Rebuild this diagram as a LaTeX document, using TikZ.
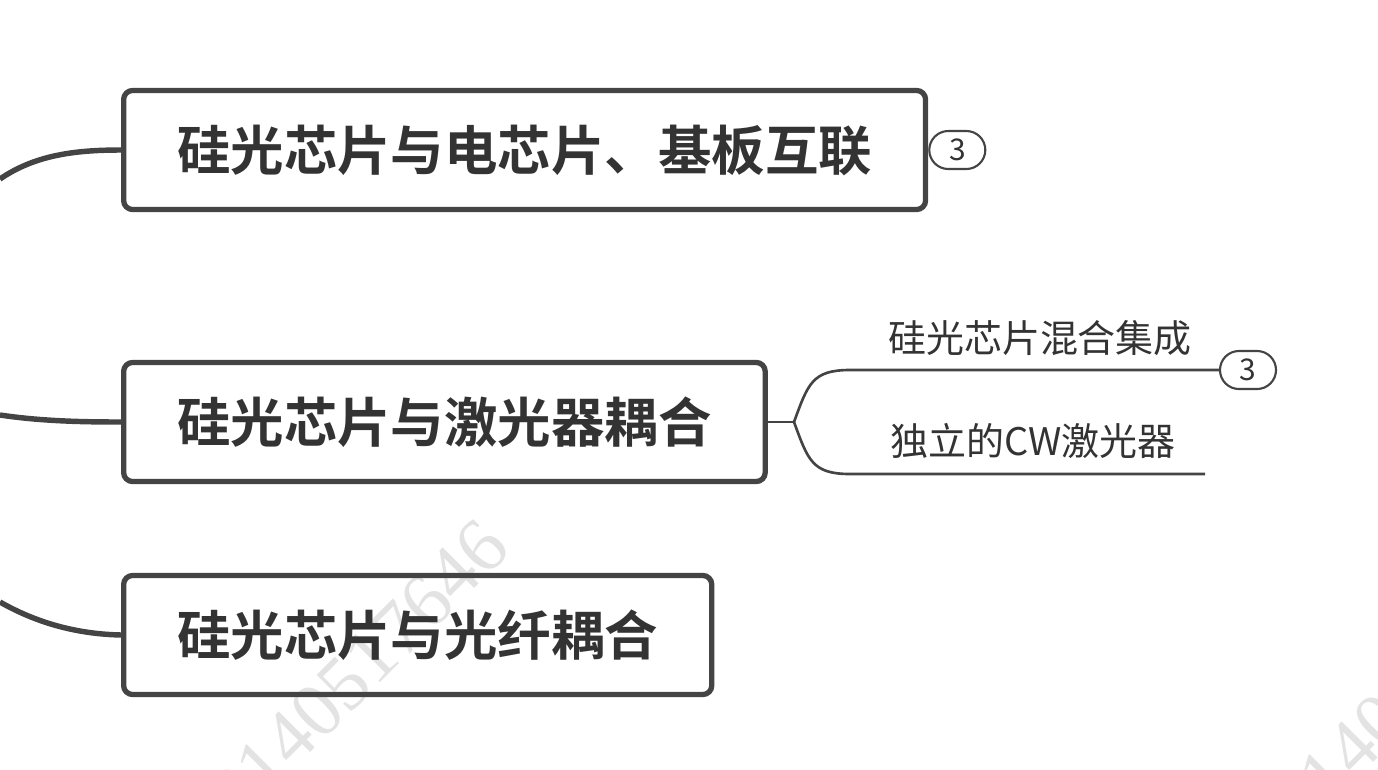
\documentclass[tikz,border=0pt]{standalone}
\usepackage{fontspec}
\setmainfont{Noto Sans CJK SC}[BoldFont={* Bold}]
\newfontfamily\markfont{Liberation Serif}
\usetikzlibrary{positioning}

\definecolor{ink}{HTML}{444444}
\definecolor{txt}{HTML}{333333}

\tikzstyle{topic} = [draw=ink, line width=1.5pt, rounded corners=0.9mm,
    minimum height=1.19cm, inner xsep=0.535cm, anchor=west, text=txt,
    font=\fontsize{15.2}{18}\selectfont\bfseries]
\tikzstyle{badge} = [draw=ink, line width=0.6pt, rounded corners=0.19cm, fill=white,
    minimum width=0.56cm, minimum height=0.38cm, inner sep=0pt, text=txt,
    font=\fontsize{8.5}{10}\selectfont]
\tikzstyle{subtext} = [text=txt, inner sep=0pt, font=\fontsize{10.8}{13}\selectfont]
\tikzstyle{watermark} = [rotate=45, text=black!11, font=\markfont\fontsize{22}{24}\selectfont]
\tikzstyle{trunk} = [draw=ink, line width=1.55pt]
\tikzstyle{twig} = [draw=ink, line width=0.75pt]

\begin{document}
\begin{tikzpicture}[x=0.01cm, y=-0.01cm]
    \useasboundingbox (0,0) rectangle (1378,769);

    % watermark
    \begin{scope}
        \clip (0,0) rectangle (1378,769);
        \node [watermark] (mark1) at (358,670) {2140517646};
        \node [watermark] (mark2) at (1421,680) {2140517646};
    \end{scope}

    \node [topic] (bond) at (121,150) {硅光芯片与电芯片、基板互联};
    \node [topic] (laser) at (121,422) {硅光芯片与激光器耦合};
    \node [topic] (fiber) at (121,635) {硅光芯片与光纤耦合};
    \node [badge, right=0cm of bond] (bondcount) {3};

    \coordinate (root1) at (0,179);
    \coordinate (root2) at (0,415);
    \coordinate (root3) at (0,602);
    \draw [trunk] (root1) .. controls (35,155) and (75,150) .. (bond.west);
    \draw [trunk] (root2) .. controls (40,421) and (80,422) .. (laser.west);
    \draw [trunk] (root3) .. controls (35,622) and (75,634) .. (fiber.west);

    \node [subtext] (hybrid) at (1040,338) {硅光芯片混合集成};
    \node [subtext] (cw) at (1033,441) {独立的CW激光器};
    \node [badge] (hybridcount) at (1248,370) {3};

    \coordinate (fork) at (794,422);
    \coordinate (cwend) at (1205,474);
    \draw [twig] (laser.east) -- (fork);
    \draw [twig] (fork) .. controls (808,384) and (812,370) .. (850,370) -- (hybridcount.west);
    \draw [twig] (fork) .. controls (808,460) and (812,474) .. (850,474) -- (cwend);
\end{tikzpicture}
\end{document}
